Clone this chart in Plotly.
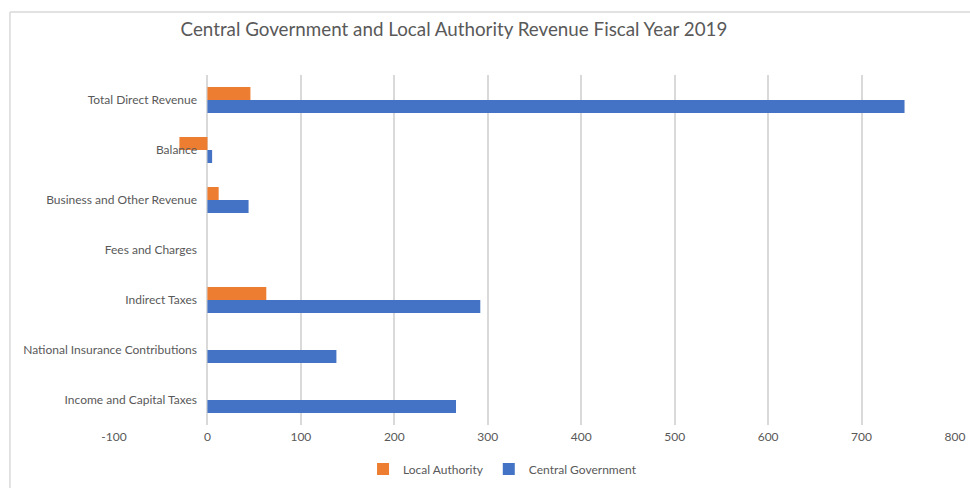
import plotly.graph_objects as go

categories = [
    "Income and Capital Taxes",
    "National Insurance Contributions",
    "Indirect Taxes",
    "Fees and Charges",
    "Business and Other Revenue",
    "Balance",
    "Total Direct Revenue",
]
central_government = [266, 138, 292, 0, 44, 5, 746]
local_authority = [0, 0, 63, 0, 12, -30, 46]
x_ticks = [-100, 0, 100, 200, 300, 400, 500, 600, 700, 800]
x_tick_labels = [str(v) for v in x_ticks]  # plain hyphen for negatives

FONT = "Lato, 'Open Sans', sans-serif"
GREY_TEXT = "#595959"

fig = go.Figure()
fig.add_trace(go.Bar(
    y=categories, x=central_government, orientation="h",
    name="Central Government", marker=dict(color="#4472C4", line=dict(width=0)),
    legendrank=2,
))
fig.add_trace(go.Bar(
    y=categories, x=local_authority, orientation="h",
    name="Local Authority", marker=dict(color="#ED7D31", line=dict(width=0)),
    legendrank=1,
))

# outer chart frame (top and left edges)
frame = dict(type="line", xref="paper", yref="paper",
             line=dict(color="#D9D9D9", width=1.5))
fig.add_shape(**frame, x0=-0.1237, x1=1.03, y0=1.18, y1=1.18)
fig.add_shape(**frame, x0=-0.1237, x1=-0.1237, y0=1.18, y1=-0.22)

fig.update_layout(
    width=970, height=488,
    margin=dict(l=114, r=15, t=75, b=63, autoexpand=False),
    paper_bgcolor="white", plot_bgcolor="white",
    barmode="group", bargap=0.48, bargroupgap=0,
    font=dict(family=FONT, color=GREY_TEXT, size=12),
    title=dict(
        text="Central Government and Local Authority Revenue Fiscal Year 2019",
        x=0.468, xanchor="center", y=0.94, yanchor="middle",
        font=dict(size=18.8, color=GREY_TEXT, family=FONT),
    ),
    xaxis=dict(
        range=[-100, 800], tickvals=x_ticks, ticktext=x_tick_labels,
        showgrid=True, gridcolor="#D9D9D9", gridwidth=1.5, zeroline=True,
        zerolinecolor="#D9D9D9", zerolinewidth=1.5, showline=False,
        ticks="", tickfont=dict(size=12, color=GREY_TEXT), ticklabelstandoff=3,
    ),
    yaxis=dict(
        anchor="free", position=0.1106,
        showgrid=False, zeroline=False, showline=False, ticks="",
        tickfont=dict(size=12, color=GREY_TEXT), ticklabelstandoff=10,
        automargin=False,
    ),
    showlegend=True,
    legend=dict(
        orientation="h", x=0.462, xanchor="center", y=-0.126, yanchor="middle",
        font=dict(size=12, color=GREY_TEXT), itemwidth=30,
        traceorder="normal",
    ),
)

fig.write_html("out.html")
